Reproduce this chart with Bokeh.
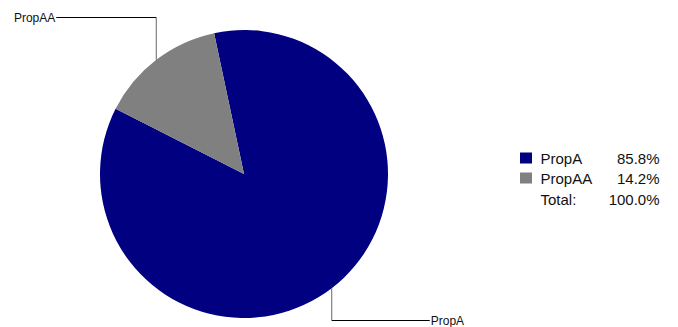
import math
from bokeh.plotting import figure
from bokeh.models import Range1d, GlobalInlineStyleSheet
from bokeh.core.properties import value
from bokeh.embed import file_html
from bokeh.resources import INLINE

# ---- data ----
labels = ["PropA", "PropAA"]
values = [85.8, 14.2]
colors = ["#000080", "#808080"]
total_label = "Total:"

# ---- layout (pixels, y up) ----
W, H = 678, 327
def sy(y):  # screen y -> data y
    return H - y
def sx(x):
    return x

cx, cy, r = sx(243.5), sy(173.5), 144
start_deg = 153.1
FONT = "Liberation Sans"

p = figure(width=W, height=H, x_range=Range1d(0, W), y_range=Range1d(0, H),
           output_backend="svg", toolbar_location=None, min_border=0)
p.axis.visible = False
p.grid.visible = False
p.outline_line_color = None
p.background_fill_color = "white"
p.stylesheets = [GlobalInlineStyleSheet(css="html,body{overflow:hidden;margin:0;}")]

total = sum(values)
a = start_deg
starts, ends, mids = [], [], []
for v in values:
    ang = v / total * 360.0
    starts.append(math.radians(a))
    ends.append(math.radians(a + ang))
    mids.append(a + ang / 2)
    a += ang

p.wedge(x=[cx] * len(values), y=[cy] * len(values), radius=r,
        start_angle=starts, end_angle=ends,
        direction="anticlock", fill_color=colors, line_color=None)

# leader lines and labels
for lab, m in zip(labels, mids):
    rad = math.radians(m)
    px = cx + r * math.cos(rad)
    py = cy + r * math.sin(rad)
    if math.sin(rad) > 0:
        ey = sy(17)
        ex = px - 100
        align = "right"
        tx = ex - 1
    else:
        ey = sy(320)
        ex = px + 98
        align = "left"
        tx = ex + 1
    p.segment(x0=[px], y0=[py], x1=[px], y1=[ey], line_color="#666666", line_width=1)
    p.segment(x0=[px], y0=[ey], x1=[ex], y1=[ey], line_color="black", line_width=1)
    p.text(x=[tx], y=[ey], text=[lab], text_font=value(FONT), text_font_size="12px",
           text_align=align, text_baseline="middle", text_color="#111111")

# legend
lx_sq = sx(525.5)
lx_txt = sx(540)
lx_pct = sx(659)
row_y = [sy(157.5), sy(177.5)]
p.rect(x=[lx_sq] * len(values), y=row_y, width=12, height=11,
       fill_color=colors, line_color=None)
p.text(x=[lx_txt] * len(values), y=row_y, text=labels, text_font=value(FONT),
       text_font_size="15px", text_baseline="middle", text_color="#111111")
p.text(x=[lx_pct] * len(values), y=row_y, text=[f"{v:.1f}%" for v in values],
       text_font=value(FONT), text_font_size="15px", text_align="right",
       text_baseline="middle", text_color="#111111")
p.text(x=[lx_txt], y=[sy(198.5)], text=[total_label], text_font=value(FONT),
       text_font_size="15px", text_baseline="middle", text_color="#111111")
p.text(x=[lx_pct], y=[sy(198.5)], text=[f"{total:.1f}%"], text_font=value(FONT),
       text_font_size="15px", text_align="right", text_baseline="middle",
       text_color="#111111")

open("out.html", "w").write(file_html(p, INLINE))
